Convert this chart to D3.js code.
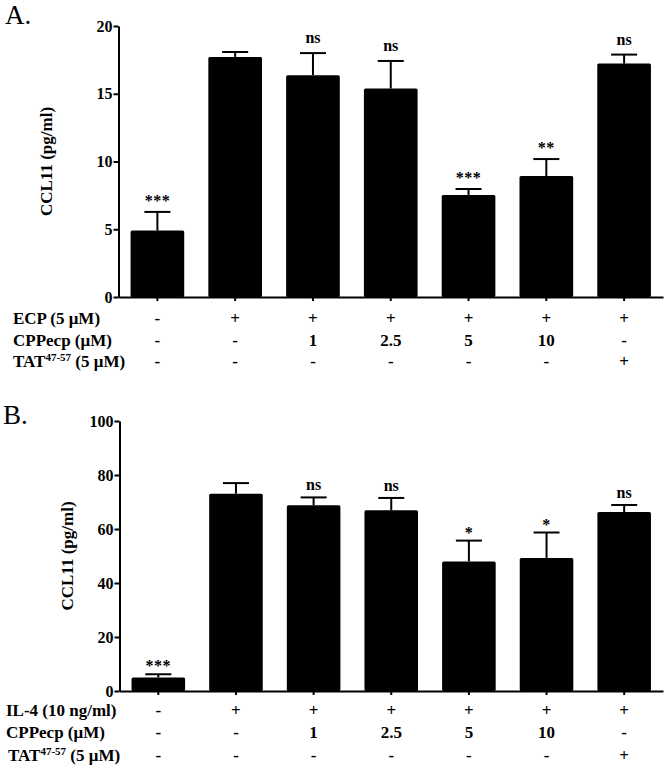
<!DOCTYPE html>
<html>
<head>
<meta charset="utf-8">
<script src="https://cdn.jsdelivr.net/npm/d3@7"></script>
<style>
  html, body { margin: 0; padding: 0; background: #fff; }
  svg { display: block; }
  text { font-family: "Liberation Serif", "Times New Roman", serif; fill: #000; }
</style>
</head>
<body>
<svg id="chart" width="666" height="769"></svg>
<script>
// ---------- data ----------
const groups = ["G1", "G2", "G3", "G4", "G5", "G6", "G7"];

// Panel A (ECP stimulation)
const valuesA = [4.9, 17.72, 16.37, 15.39, 7.53, 8.93, 17.23];
const errorsA = [1.38, 0.36, 1.63, 2.03, 0.44, 1.25, 0.66];
const sigA = ["***", "", "ns", "ns", "***", "**", "ns"];
const ticksA = [0, 5, 10, 15, 20];
const ecpRow = ["-", "+", "+", "+", "+", "+", "+"];
const cppRowA = ["-", "-", "1", "2.5", "5", "10", "-"];
const tatRowA = ["-", "-", "-", "-", "-", "-", "+"];

// Panel B (IL-4 stimulation)
const valuesB = [5.0, 73.1, 68.8, 66.9, 48.0, 49.3, 66.3];
const errorsB = [1.2, 3.9, 2.9, 4.6, 7.7, 9.4, 2.6];
const sigB = ["***", "", "ns", "ns", "*", "*", "ns"];
const ticksB = [0, 20, 40, 60, 80, 100];
const il4Row = ["-", "+", "+", "+", "+", "+", "+"];
const cppRowB = ["-", "-", "1", "2.5", "5", "10", "-"];
const tatRowB = ["-", "-", "-", "-", "-", "-", "+"];

const yTitle = "CCL11 (pg/ml)";

// ---------- drawing ----------
const svg = d3.select("#chart");

function drawPanel(cfg) {
  const g = svg.append("g");
  const x = d3.scaleBand().domain(groups).range([cfg.left, cfg.right])
    .paddingInner(0.31).paddingOuter(0.155);
  const y = d3.scaleLinear().domain([0, cfg.max]).range([cfg.bottom, cfg.top]);

  // panel letter
  g.append("text").attr("x", cfg.letterX).attr("y", cfg.letterY)
    .style("font-size", "27px").text(cfg.letter);

  // bars
  g.selectAll("rect.bar").data(groups).join("rect")
    .attr("class", "bar")
    .attr("x", d => x(d))
    .attr("width", x.bandwidth())
    .attr("y", (d, i) => y(cfg.values[i]))
    .attr("height", (d, i) => y(0) - y(cfg.values[i]))
    .attr("rx", 1.5)
    .attr("fill", "#000");

  // error bars (upper only)
  const cap = 13;
  groups.forEach((d, i) => {
    const cx = x(d) + x.bandwidth() / 2;
    const top = y(cfg.values[i] + cfg.errors[i]);
    g.append("line").attr("x1", cx).attr("x2", cx)
      .attr("y1", y(cfg.values[i])).attr("y2", top)
      .attr("stroke", "#000").attr("stroke-width", 2);
    g.append("line").attr("x1", cx - cap).attr("x2", cx + cap)
      .attr("y1", top).attr("y2", top)
      .attr("stroke", "#000").attr("stroke-width", 2);
    const s = cfg.sig[i];
    if (s) {
      const centre = top - cfg.sigGap;
      const isStar = s.startsWith("*");
      g.append("text")
        .attr("x", cx)
        .attr("y", centre + (isStar ? 8 : 4))
        .attr("text-anchor", "middle")
        .style("font-size", "16px")
        .style("font-weight", "bold")
        .style("letter-spacing", isStar ? "0.5px" : "0")
        .text(s);
    }
  });

  // y axis
  const yAxis = d3.axisLeft(y).tickValues(cfg.ticks).tickSize(5).tickSizeOuter(0).tickPadding(1);
  const ya = g.append("g").attr("transform", `translate(${cfg.left},0)`).call(yAxis);
  ya.select(".domain").attr("stroke-width", 2);
  ya.selectAll(".tick line").attr("stroke-width", 2);
  ya.selectAll(".tick text").style("font-size", "16px").style("font-weight", "bold")
    .style("font-family", "'Liberation Serif', serif");

  // x axis
  const xAxis = d3.axisBottom(x).tickSize(4).tickSizeOuter(0).tickFormat("");
  const xa = g.append("g").attr("transform", `translate(0,${cfg.bottom})`).call(xAxis);
  xa.select(".domain").attr("stroke-width", 2);
  xa.selectAll(".tick line").attr("stroke-width", 2);

  // y title
  g.append("text")
    .attr("transform", `translate(${cfg.titleX},${(cfg.top + cfg.bottom) / 2}) rotate(-90)`)
    .attr("text-anchor", "middle")
    .style("font-size", "17px").style("font-weight", "bold")
    .text(yTitle);

  // treatment rows
  cfg.rows.forEach((row, r) => {
    const by = cfg.rowY[r];
    const lab = g.append("text").attr("x", cfg.rowLabelX[r]).attr("y", by)
      .style("font-size", "17px").style("font-weight", "bold");
    if (row.sup) {
      lab.append("tspan").text(row.pre);
      lab.append("tspan").attr("dy", -6).style("font-size", "11px").text(row.sup);
      lab.append("tspan").attr("dy", 6).text(row.post);
    } else {
      lab.text(row.label);
    }
    g.selectAll(null).data(row.vals).join("text")
      .attr("x", (d, i) => x(groups[i]) + x.bandwidth() / 2)
      .attr("y", by)
      .attr("text-anchor", "middle")
      .style("font-size", "17px").style("font-weight", "bold")
      .text(d => d);
  });
}

drawPanel({
  letter: "A.", letterX: 5, letterY: 24,
  left: 118.5, right: 663, top: 26, bottom: 297, max: 20,
  values: valuesA, errors: errorsA, sig: sigA, ticks: ticksA, sigGap: 14,
  titleX: 52,
  rowY: [324, 345.5, 367], rowLabelX: [13, 13, 13],
  rows: [
    { label: "ECP (5 μM)", vals: ecpRow },
    { label: "CPPecp (μM)", vals: cppRowA },
    { pre: "TAT", sup: "47-57", post: " (5 μM)", vals: tatRowA }
  ]
});

drawPanel({
  letter: "B.", letterX: 3, letterY: 424,
  left: 119.5, right: 663, top: 421, bottom: 691, max: 100,
  values: valuesB, errors: errorsB, sig: sigB, ticks: ticksB, sigGap: 11,
  titleX: 73,
  rowY: [716, 738, 761], rowLabelX: [6, 6, 8],
  rows: [
    { label: "IL-4 (10 ng/ml)", vals: il4Row },
    { label: "CPPecp (μM)", vals: cppRowB },
    { pre: "TAT", sup: "47-57", post: " (5 μM)", vals: tatRowB }
  ]
});
</script>
</body>
</html>
